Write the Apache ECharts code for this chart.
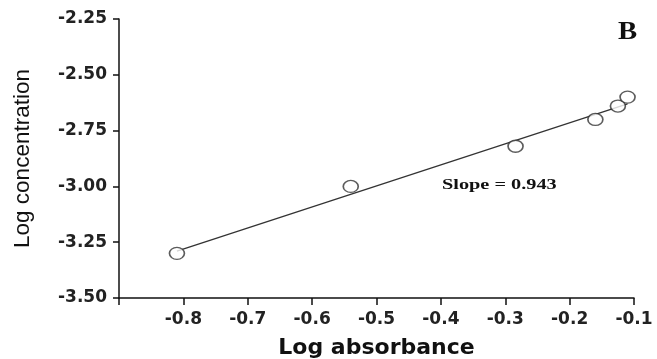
<!DOCTYPE html>
<html>
<head>
<meta charset="utf-8">
<script src="https://cdn.jsdelivr.net/npm/echarts@6/dist/echarts.min.js"></script>
<style>
  html, body {margin: 0; padding: 0; background: #fff;}
  #chart {width: 657px; height: 359px;}
</style>
</head>
<body>
<div id="chart"></div>
<script>
// measured points
let logAbs  = [-0.81, -0.54, -0.284, -0.16, -0.125, -0.11];
let logConc = [-3.30, -3.00, -2.82, -2.70, -2.64, -2.60];
// fitted line ends (slope 0.943)
let fitX = [-0.81, -0.11];
let fitY = [-3.29, -2.63];
let slopeText = 'Slope = 0.943';
let panelLabel = 'B';

let chart = echarts.init(document.getElementById('chart'));

let tickFont = {fontFamily: 'DejaVu Sans', fontWeight: 'bold', fontSize: 17, color: '#222'};

let option = {
  animation: false,
  grid: {left: 119, right: 23, top: 19, bottom: 61, containLabel: false, outerBoundsMode: 'none'},
  xAxis: {
    type: 'value',
    min: -0.9, max: -0.1, interval: 0.1,
    name: 'Log absorbance',
    nameLocation: 'middle',
    nameGap: 39,
    nameTextStyle: {fontFamily: 'DejaVu Sans', fontWeight: 'bold', fontSize: 22, color: '#111'},
    axisLine: {onZero: false, lineStyle: {color: '#111', width: 1.5}},
    axisTick: {length: 7, lineStyle: {color: '#111', width: 1.5}},
    splitLine: {show: false},
    axisLabel: Object.assign({
      margin: 13,
      formatter: function(v) {
        if (Math.abs(v + 0.9) < 1e-6) return '';
        return v.toFixed(1);
      }
    }, tickFont)
  },
  yAxis: {
    type: 'value',
    min: -3.5, max: -2.25, interval: 0.25,
    name: 'Log concentration',
    nameLocation: 'middle',
    nameGap: 85,
    nameTextStyle: {fontFamily: 'Liberation Sans', fontSize: 22.5, color: '#111'},
    axisLine: {onZero: false, lineStyle: {color: '#111', width: 1.5}},
    axisTick: {length: 6, lineStyle: {color: '#111', width: 1.5}},
    splitLine: {show: false},
    axisLabel: Object.assign({
      margin: 12,
      formatter: function(v) { return v.toFixed(2); }
    }, tickFont)
  },
  series: [
    {
      type: 'line',
      data: fitX.map(function(x, i){ return [x, fitY[i]]; }),
      symbol: 'none',
      lineStyle: {color: '#333', width: 1.3},
      z: 2
    },
    {
      type: 'scatter',
      data: logAbs.map(function(x, i){ return [x, logConc[i]]; }),
      symbol: 'circle',
      symbolSize: [15, 12],
      itemStyle: {color: '#fff', borderColor: '#333', borderWidth: 1.5},
      z: 3
    }
  ],
  graphic: [
    {type: 'text', x: 442, y: 185, scaleX: 1.4,
     style: {text: slopeText, font: 'bold 14.5px "Liberation Serif"', fill: '#111', verticalAlign: 'middle'}},
    {type: 'text', x: 618, y: 33, scaleX: 1.15,
     style: {text: panelLabel, font: 'bold 25px "Liberation Serif"', fill: '#111', verticalAlign: 'middle'}}
  ]
};

chart.setOption(option);
</script>
</body>
</html>
